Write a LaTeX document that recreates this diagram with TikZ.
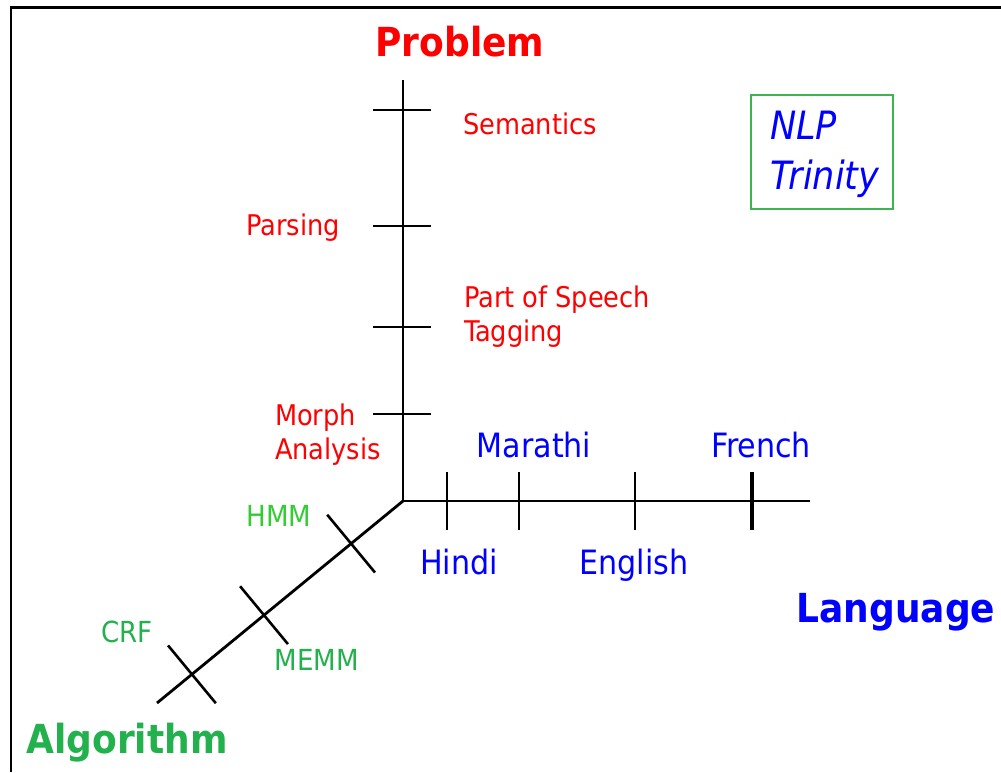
\documentclass[tikz,border=0pt]{standalone}
\usepackage{fontspec}
\setmainfont{DejaVu Sans Condensed}[BoldFont={DejaVu Sans Condensed Bold},ItalicFont={DejaVu Sans Condensed Oblique}]
\usetikzlibrary{calc}
\definecolor{pred}{RGB}{255,0,0}
\definecolor{lblue}{RGB}{0,0,255}
\definecolor{hgreen}{RGB}{51,204,51}
\definecolor{agreen}{RGB}{34,177,76}
\definecolor{boxgreen}{RGB}{60,180,80}
\begin{document}
\begin{tikzpicture}[x=1pt,y=-1pt,
  axisline/.style={line width=2.8pt,black},
  tickline/.style={line width=2.6pt,black},
  frameline/.style={line width=2.8pt,black},
  titletext/.style={font=\fontsize{40}{42}\selectfont\bfseries,inner sep=0pt},
  redlabel/.style={font=\fontsize{28.5}{34}\selectfont,text=pred,inner sep=0pt,align=left},
  bluelabel/.style={font=\fontsize{33.5}{36}\selectfont,text=lblue,inner sep=0pt},
  greenlabel/.style={font=\fontsize{29}{34}\selectfont,text=agreen,inner sep=0pt},
  trinitybox/.style={draw=boxgreen,line width=2.2pt},
  trinitytext/.style={font=\fontsize{39}{50}\selectfont\itshape,text=lblue,inner sep=0pt,align=left}
]
\useasboundingbox (0,0) rectangle (1001,772);
% frame
\draw[frameline] (11,772) -- (11,7.5) -- (1001,7.5);

% axes
\coordinate (O) at (403,501);
\coordinate (Ptop) at (403,80);
\coordinate (Lend) at (810,501);
\coordinate (Aend) at (157,703);
\draw[axisline] (Ptop) -- (O) -- (Lend);
\draw[axisline] (O) -- (Aend);

% problem axis ticks
\foreach \n/\y in {sem/110,par/226,pos/327,mor/414}{
  \coordinate (\n L) at (373,\y);
  \coordinate (\n R) at (431,\y);
  \draw[tickline] (\n L) -- (\n R);
}
% language axis ticks
\foreach \n/\x/\w in {hin/447/2.6pt,mar/519/2.6pt,eng/635/2.6pt,fre/752/3.3pt}{
  \coordinate (\n T) at (\x,472);
  \coordinate (\n B) at (\x,530);
  \draw[tickline,line width=\w] (\n T) -- (\n B);
}
% algorithm axis ticks
\foreach \n/\t in {hmm/0.211,memm/0.565,crf/0.858}{
  \coordinate (\n C) at ($(O)!\t!(Aend)$);
  \coordinate (\n A) at ($(\n C)+(-23.9,-28.9)$);
  \coordinate (\n B) at ($(\n C)+(23.9,28.9)$);
  \draw[tickline] (\n A) -- (\n B);
}

% titles
\node[titletext,text=pred,anchor=base] (problem) at (460,56) {Problem};
\node[titletext,text=lblue,anchor=base] (language) at (896,622) {Language};
\node[titletext,text=agreen,anchor=base] (algorithm) at (127,753) {Algorithm};

% problem labels
\node[redlabel,anchor=base west] (semantics) at (463,134) {Semantics};
\node[redlabel,anchor=base east] (parsing) at (340,235) {Parsing};
\node[redlabel,anchor=base west] (postag) at (464,341) {Part of Speech\\Tagging};
\node[redlabel,anchor=base west] (morph) at (275,459) {Morph\\Analysis};

% language labels
\node[bluelabel,anchor=base] (marathi) at (534,457) {Marathi};
\node[bluelabel,anchor=base] (french) at (761,457) {French};
\node[bluelabel,anchor=base] (hindi) at (459,574) {Hindi};
\node[bluelabel,anchor=base] (english) at (634,574) {English};

% algorithm labels
\node[greenlabel,text=hgreen,anchor=base] (hmm) at (279,526) {HMM};
\node[greenlabel,anchor=base] (crf) at (127,642) {CRF};
\node[greenlabel,anchor=base] (memm) at (317,670) {MEMM};

% NLP Trinity box
\draw[trinitybox] (751,95) rectangle (893,209);
\node[trinitytext,anchor=base west] (nlp) at (770,189) {NLP\\Trinity};
\end{tikzpicture}
\end{document}
